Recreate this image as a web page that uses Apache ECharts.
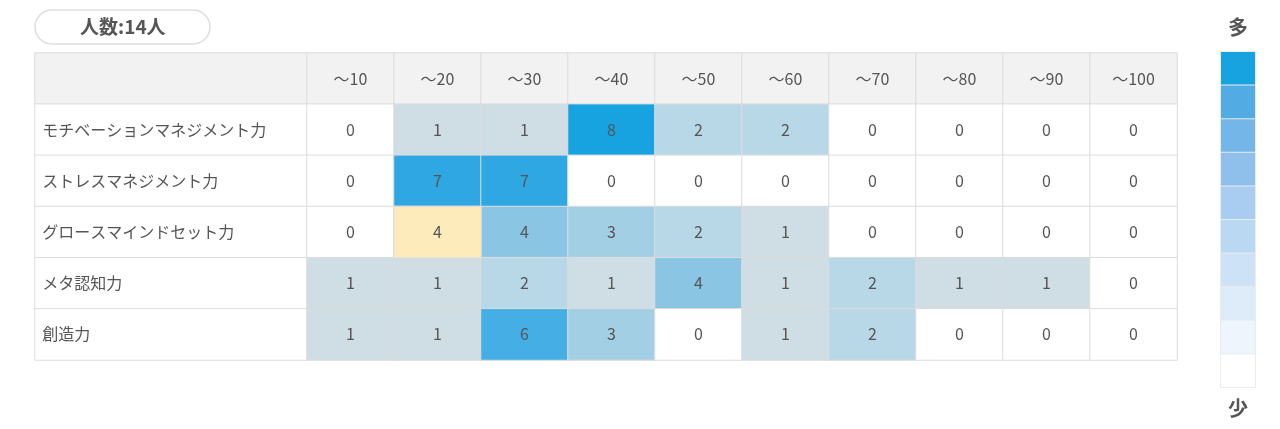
<!DOCTYPE html>
<html>
<head>
<meta charset="utf-8">
<script src="https://cdn.jsdelivr.net/npm/echarts@6/dist/echarts.min.js"></script>
<style>
  html, body { margin: 0; padding: 0; background: #fff; }
  #heat { width: 1280px; height: 429px; }
</style>
</head>
<body>
<div id="heat"></div>
<script>
// 得点帯
var scoreBands = ['～10', '～20', '～30', '～40', '～50', '～60', '～70', '～80', '～90', '～100'];
// 能力
var skills = ['モチベーションマネジメント力', 'ストレスマネジメント力', 'グロースマインドセット力', 'メタ認知力', '創造力'];
// 人数
var motivation = [0, 1, 1, 8, 2, 2, 0, 0, 0, 0];
var stress     = [0, 7, 7, 0, 0, 0, 0, 0, 0, 0];
var growth     = [0, 4, 4, 3, 2, 1, 0, 0, 0, 0];
var meta       = [1, 1, 2, 1, 4, 1, 2, 1, 1, 0];
var creativity = [1, 1, 6, 3, 0, 1, 2, 0, 0, 0];
var counts = [motivation, stress, growth, meta, creativity];
var total = 14;
// 強調セル (行, 列)
var highlightCell = [2, 1];
// 凡例の両端
var legendEnds = ['多', '少'];

var font = '"Noto Sans CJK JP", "Noto Sans", sans-serif';
var textColor = '#555';
var lineColor = '#dcdcdc';

var rowCats = [''].concat(skills);

var cellData = [];
counts.forEach(function (row, r) {
  row.forEach(function (v, c) {
    cellData.push([c, r + 1, v]);
  });
});
var headData = scoreBands.map(function (b, i) {
  return { value: [i, 0, 0], name: b };
});
var nameData = rowCats.map(function (s, i) {
  return { value: [0, i, 0], name: s, itemStyle: { color: i === 0 ? '#f2f2f2' : '#fff' } };
});
var hr = highlightCell[0], hc = highlightCell[1];
var hiData = [[hc, hr + 1, counts[hr][hc]]];

var myChart = echarts.init(document.getElementById('heat'));

var cellBorder = { borderColor: lineColor, borderWidth: 1 };
var cellLabel = { show: true, color: textColor, fontSize: 16, fontFamily: font };
var endStyle = { color: textColor, fontSize: 20, fontWeight: 'bold', fontFamily: font, lineHeight: 22 };

var option = {
  animation: false,
  title: [
    {
      text: '人数:' + total + '人',
      left: 35,
      top: 10,
      padding: [6, 45, 6, 45],
      borderColor: '#dedede',
      borderWidth: 1.5,
      borderRadius: 17,
      textStyle: { color: textColor, fontSize: 19, fontWeight: 'bold', fontFamily: font, lineHeight: 22 }
    },
    { text: legendEnds[0], left: 1228, top: 16, padding: 0, textStyle: endStyle },
    { text: legendEnds[1], left: 1228, top: 397, padding: 0, textStyle: endStyle }
  ],
  grid: [
    { left: 35, top: 53, width: 272, height: 307 },
    { left: 307, top: 53, width: 870, height: 307 }
  ],
  xAxis: [
    { type: 'category', gridIndex: 0, data: [''], show: false },
    { type: 'category', gridIndex: 1, data: scoreBands, show: false }
  ],
  yAxis: [
    { type: 'category', gridIndex: 0, data: rowCats, inverse: true, show: false },
    { type: 'category', gridIndex: 1, data: rowCats, inverse: true, show: false }
  ],
  visualMap: [
    {
      type: 'piecewise',
      show: false,
      seriesIndex: [2],
      pieces: [
        { value: 0, color: '#ffffff' },
        { value: 1, color: '#cfdde4' },
        { value: 2, color: '#b8d7e7' },
        { value: 3, color: '#a3cfe5' },
        { value: 4, color: '#8ac6e4' },
        { value: 5, color: '#67bae4' },
        { value: 6, color: '#44aee5' },
        { value: 7, color: '#2ea7e3' },
        { value: 8, color: '#17a2e0' }
      ]
    },
    {
      type: 'piecewise',
      seriesIndex: [4],
      orient: 'vertical',
      right: 24,
      top: 51,
      padding: 1,
      backgroundColor: '#e9ecef',
      itemWidth: 34,
      itemHeight: 32.6,
      itemGap: 1,
      itemSymbol: 'rect',
      showLabel: false,
      selectedMode: false,
      pieces: [
        { min: 0, max: 1, color: '#ffffff', symbol: 'rect' },
        { min: 1, max: 2, color: '#eef5fc', symbol: 'rect' },
        { min: 2, max: 3, color: '#deebf8', symbol: 'rect' },
        { min: 3, max: 4, color: '#cde2f6', symbol: 'rect' },
        { min: 4, max: 5, color: '#bbd8f3', symbol: 'rect' },
        { min: 5, max: 6, color: '#a8cdf0', symbol: 'rect' },
        { min: 6, max: 7, color: '#8fc0ec', symbol: 'rect' },
        { min: 7, max: 8, color: '#74b6e8', symbol: 'rect' },
        { min: 8, max: 9, color: '#52ace3', symbol: 'rect' },
        { min: 9, max: 10, color: '#17a2e0', symbol: 'rect' }
      ]
    }
  ],
  series: [
    {
      type: 'heatmap',
      xAxisIndex: 0, yAxisIndex: 0,
      data: nameData,
      itemStyle: cellBorder,
      label: Object.assign({}, cellLabel, {
        position: 'insideLeft', distance: 8,
        formatter: function (p) { return p.name; }
      })
    },
    {
      type: 'heatmap',
      xAxisIndex: 1, yAxisIndex: 1,
      data: headData,
      itemStyle: { color: '#f2f2f2', borderColor: lineColor, borderWidth: 1 },
      label: Object.assign({}, cellLabel, { formatter: function (p) { return p.name; } })
    },
    {
      type: 'heatmap',
      xAxisIndex: 1, yAxisIndex: 1,
      data: cellData,
      itemStyle: cellBorder,
      label: cellLabel
    },
    {
      type: 'heatmap',
      xAxisIndex: 1, yAxisIndex: 1,
      data: hiData,
      z: 3,
      itemStyle: { color: '#feebbb', borderColor: lineColor, borderWidth: 1 },
      label: cellLabel
    },
    {
      type: 'heatmap',
      xAxisIndex: 1, yAxisIndex: 1,
      data: []
    }
  ]
};
myChart.setOption(option);
window.addEventListener('resize', function () {
  myChart.resize();
});
</script>
</body>
</html>
